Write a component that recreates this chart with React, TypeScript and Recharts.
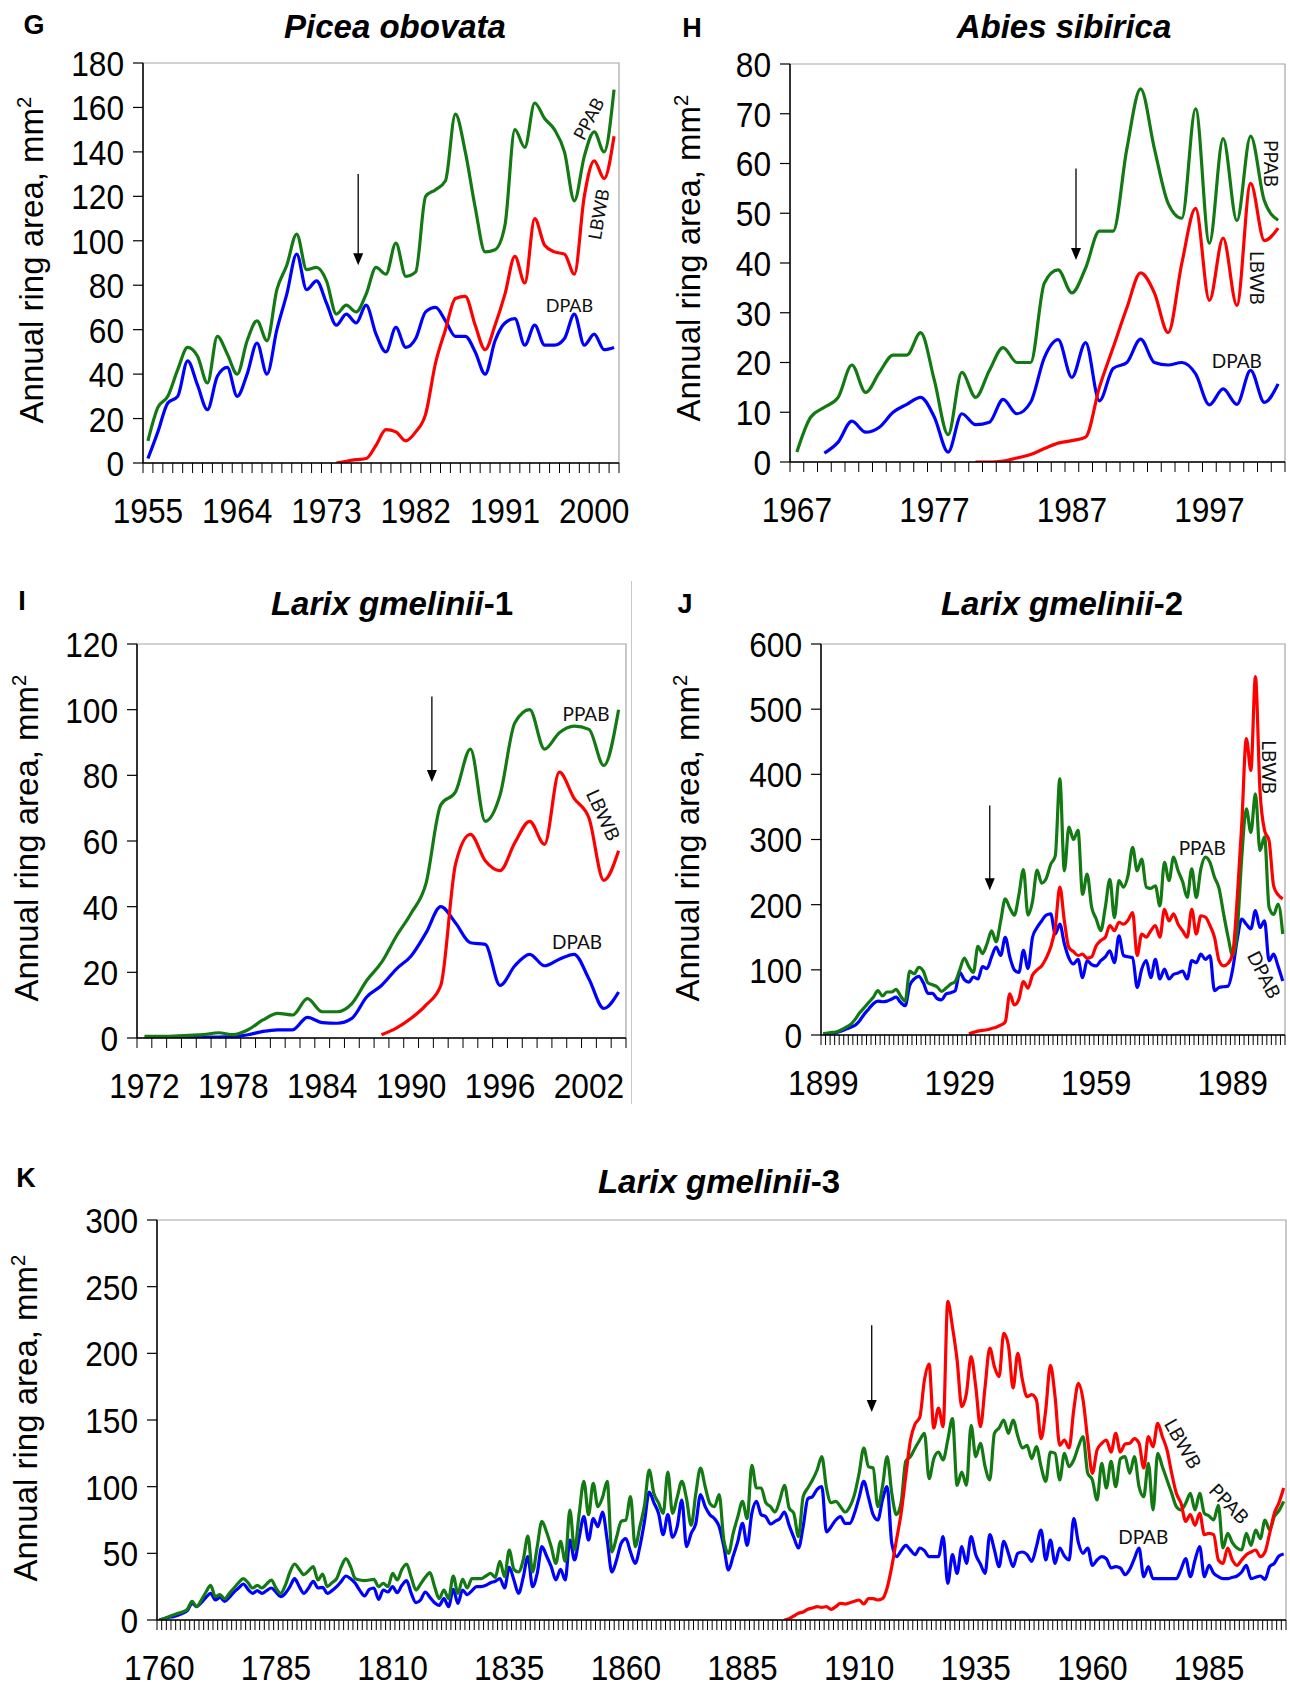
import React from 'react';
import {
  LineChart,
  Line,
  XAxis,
  YAxis,
  ReferenceLine,
  ReferenceDot,
  ReferenceArea,
} from 'recharts';

const GREEN = '#137a13';
const RED = '#ff0000';
const BLUE = '#0000ff';
const SANS = '"Liberation Sans", Arial, Helvetica, sans-serif';
const TAGFONT = 'Lato, "Open Sans", sans-serif';

// ---- G: Picea obovata (1955-2002)
const G_START = 1955;
const G_PPAB = [
  10, 25, 30, 42, 52, 48, 36, 57, 49, 40,
  55, 64, 55, 78, 89, 103, 87, 88, 82, 67,
  71, 68, 76, 88, 85, 99, 84, 86, 120, 123,
  127, 157, 140, 115, 95, 96, 107, 150, 142, 162,
  155, 150, 140, 118, 138, 149, 140, 168,
];
const G_DPAB_START = 1955;
const G_DPAB = [
  2, 14, 27, 30, 46, 35, 24, 39, 43, 30,
  40, 54, 40, 60, 76, 94, 78, 82, 72, 62,
  67, 63, 71, 58, 50, 61, 52, 56, 68, 70,
  64, 57, 57, 50, 40, 55, 63, 65, 53, 62,
  53, 53, 56, 67, 53, 58, 51, 52,
];
const G_LBWB_START = 1974;
const G_LBWB = [
  0, 0.8, 1.5, 2, 8, 15, 14, 10, 14, 22,
  45, 60, 74, 75, 62, 51, 62, 76, 93, 81,
  110, 98, 95, 94, 85, 120, 136, 128, 147,
];
const G_XLABELS = [1955, 1964, 1973, 1982, 1991, 2000];
const G_YTICKS = [0, 20, 40, 60, 80, 100, 120, 140, 160, 180];

// ---- H: Abies sibirica (1967-2002)
const H_START = 1967;
const H_PPAB = [
  2, 9, 11, 13, 19.5, 14, 18, 21.5, 21.5, 26,
  16.4, 5.5, 18, 13, 18.4, 23, 20, 20, 36, 38.6,
  34, 39, 46.4, 46.4, 63, 75, 63, 52, 49, 71,
  44, 65, 48.5, 65.5, 52.5, 48.6,
];
const H_DPAB_START = 1969;
const H_DPAB = [
  1.8, 4, 8.2, 6, 7, 10, 11.6, 13, 9, 2,
  9.7, 7.5, 8, 12.6, 9.7, 12, 21, 24.6, 17, 24,
  12.3, 18.8, 20, 24.7, 20, 19.5, 20, 17.7, 11.5, 14.7,
  11.6, 18.4, 12, 15.7,
];
const H_LBWB_START = 1980;
const H_LBWB = [
  0, 0, 0.2, 0.8, 1.5, 2.7, 3.8, 4.3, 5, 15,
  23, 31, 38, 34, 26, 40, 51, 32.5, 45, 31.5,
  56, 44.5, 47,
];
const H_XLABELS = [1967, 1977, 1987, 1997];
const H_YTICKS = [0, 10, 20, 30, 40, 50, 60, 70, 80];

// ---- I: Larix gmelinii-1 (1972-2004)
const I_START = 1972;
const I_PPAB = [
  0.5, 0.5, 0.6, 0.8, 1, 1.6, 1, 2.5, 5.5, 7.5,
  7, 12, 8, 8, 10.5, 17.5, 23, 31, 38, 47,
  71, 75, 88, 66, 74, 96, 100, 88, 93, 95,
  94, 83, 100,
];
const I_DPAB_START = 1973;
const I_DPAB = [
  0.2, 0.3, 0.3, 0.3, 0.3, 0.4, 1, 2, 2.5, 2.5,
  6.3, 4.7, 4.5, 6, 12.5, 16, 21, 25, 32, 40,
  35, 29, 28.5, 16, 22, 25.5, 22, 24, 25.5, 18,
  9, 14,
];
const I_LBWB_START = 1988;
const I_LBWB = [
  1, 3, 6, 10, 16, 53, 62, 54, 51, 59.5,
  66, 59, 81, 73, 67, 48, 57,
];
const I_XLABELS = [1972, 1978, 1984, 1990, 1996, 2002];
const I_YTICKS = [0, 20, 40, 60, 80, 100, 120];

// ---- J: Larix gmelinii-2 (1899-2000)
const J_START = 1899;
const J_PPAB = [
  2, 3, 4, 5, 8, 12, 16, 24, 34, 42,
  50, 58, 68, 60, 66, 66, 70, 60, 52, 98,
  94, 104, 98, 80, 77, 74, 67, 72, 78, 82,
  100, 118, 105, 96, 136, 125, 140, 160, 143, 175,
  209, 195, 184, 215, 254, 184, 205, 253, 233, 240,
  262, 275, 393, 252, 319, 300, 314, 216, 247, 196,
  178, 160, 196, 239, 180, 237, 227, 245, 288, 252,
  270, 227, 225, 229, 198, 265, 237, 273, 252, 235,
  211, 255, 211, 255, 273, 265, 242, 225, 186, 150,
  122, 160, 273, 347, 311, 370, 283, 304, 196, 185,
  201, 155,
];
const J_DPAB_START = 1899;
const J_DPAB = [
  1.5, 2, 3, 4, 6, 9, 12, 15, 22, 32,
  40, 48, 52, 51, 52, 55, 58, 50, 45, 76,
  86, 90, 80, 64, 64, 56, 54, 63, 65, 68,
  96, 85, 81, 89, 86, 105, 102, 120, 135, 122,
  150, 120, 100, 96, 130, 102, 150, 165, 175, 184,
  186, 155, 170, 140, 118, 109, 116, 88, 114, 108,
  106, 114, 120, 129, 111, 152, 122, 120, 119, 73,
  101, 114, 88, 116, 86, 101, 86, 93, 95, 98,
  86, 114, 111, 124, 116, 122, 68, 73, 74, 75,
  101, 147, 178, 170, 163, 191, 165, 175, 114, 124,
  105, 83,
];
const J_LBWB_START = 1931;
const J_LBWB = [
  2, 4, 6, 7, 8, 10, 12, 15, 20, 63,
  46, 55, 82, 72, 92, 100, 106, 118, 135, 165,
  227, 175, 134, 128, 122, 124, 118, 120, 137, 145,
  150, 168, 160, 173, 170, 176, 188, 122, 155, 150,
  160, 168, 150, 193, 175, 186, 170, 160, 150, 193,
  155, 183, 181, 168, 150, 114, 106, 110, 125, 210,
  324, 455, 406, 550, 375, 314, 298, 229, 215, 209,
];
const J_XLABELS = [1899, 1929, 1959, 1989];
const J_YTICKS = [0, 100, 200, 300, 400, 500, 600];

// ---- K: Larix gmelinii-3 (1760-2001)
const K_START = 1760;
const K_PPAB = [
  0, 1, 2.5, 3.75, 5, 6, 8, 14, 10, 15,
  21, 26, 17.5, 19, 16, 20, 24, 28, 31, 28,
  24, 26, 24, 27, 30, 24, 20, 26, 36, 42,
  38, 34, 37, 40, 30, 34.5, 25, 28, 31, 40,
  46, 40, 31, 30, 29.5, 30, 30.5, 25, 27.5, 25,
  35, 30, 38, 42, 32, 22.5, 27, 32, 35.5, 25,
  16, 22.5, 16, 33, 20, 30.5, 24, 31, 31, 31,
  33, 35, 32, 44, 32.5, 52.5, 38, 36, 45, 63,
  36, 55, 74, 66, 55, 42.5, 59, 44, 82.5, 52.5,
  80, 104, 79, 102.5, 85, 92, 104, 51, 62, 74,
  75, 92.5, 55, 70, 86, 112.5, 95, 88, 80, 111,
  80, 92, 104, 91, 71, 95, 114, 100, 87.5, 85,
  94, 60, 50, 65, 77.5, 89, 76, 116, 99, 99,
  88, 85, 81, 90, 101, 84, 80, 62.5, 92.5, 99,
  105, 112.5, 122.5, 99, 88, 89, 85, 81, 85, 94,
  110, 129, 115, 114, 85, 100, 122.5, 95, 79, 88,
  119, 122.5, 129, 135, 140, 106, 121, 126, 120, 135,
  151, 101, 111, 101, 146, 122.5, 132.5, 115, 105, 140,
  144, 150, 140, 150, 138, 129, 131, 121, 130, 115,
  104, 126, 125, 105, 125, 115, 120, 130, 137.5, 110,
  105, 90, 117.5, 99, 119, 100, 121, 122.5, 110, 122.5,
  100, 92.5, 117.5, 82.5, 125, 115, 105, 95, 85, 82.5,
  87.5, 95, 82.5, 95, 80, 78, 75, 86, 54, 65,
  58, 54, 52.5, 65, 56, 67.5, 61, 75, 67.5, 77.5,
  82, 89,
];
const K_DPAB_START = 1760;
const K_DPAB = [
  0, 1, 2, 2.5, 3.5, 5, 7, 12.5, 10, 13,
  17, 20, 15, 17, 14, 17, 21, 24, 27, 23,
  20, 22, 20, 22, 24, 21, 17.5, 20, 25, 31,
  25, 20, 24, 29, 24, 24.5, 20, 22, 25, 29,
  33, 31, 27.5, 22, 18, 23, 24, 15.5, 22.5, 21,
  25, 20.5, 26, 29.5, 20, 13, 15, 21, 17, 13,
  11, 16, 10, 23, 12.5, 22.5, 19, 22, 25, 25,
  26, 28, 29, 31, 24, 39.5, 30, 20, 32, 47.5,
  25, 35, 55, 48, 40, 30, 38, 30, 60, 45,
  62, 77.5, 60, 76, 70, 81, 60, 36, 45, 57.5,
  61, 51, 42.5, 55, 74, 96, 88, 80, 64, 79,
  62, 70, 90, 55, 65, 72.5, 94, 85, 79, 76,
  70, 55, 37.5, 48, 59, 72.5, 56, 80, 89, 79,
  77.5, 72, 74, 76, 81, 71, 62, 54, 70, 91,
  92.5, 98, 100, 66, 70, 75, 77.5, 72.5, 72.5, 80,
  92, 104, 92, 79, 75, 90, 100, 57.5, 47.5, 52,
  56, 52.5, 49, 54, 52, 47.5, 47.5, 47.5, 62.5, 27.5,
  49, 35, 55, 42.5, 62.5, 49, 42, 35, 64, 52.5,
  40, 59, 50, 40, 50, 51, 49, 44, 55, 67.5,
  45, 60, 42.5, 54, 48, 45, 76, 58, 50, 54,
  41, 45, 47.5, 46, 39, 40, 39, 34, 38, 46,
  54, 32.5, 40, 31, 31, 31, 31, 31, 31, 38,
  46, 32.5, 45, 55, 32.5, 41, 35, 32.5, 31, 31,
  32, 33, 36, 41, 31, 32, 33, 30.5, 40, 42.5,
  48, 49.5,
];
const K_LBWB_START = 1894;
const K_LBWB = [
  0, 1, 3, 5, 6, 8,
  9, 10, 9.5, 10, 8, 10, 12.5, 12, 13, 14,
  15, 12, 16, 16, 15, 16, 24, 40, 60, 80,
  108, 135, 147, 152, 180, 192, 144, 159, 145, 239,
  220, 195, 160, 170, 197.5, 175, 145, 175, 204, 190,
  182.5, 215, 206, 174, 200, 180, 167.5, 169, 165, 136,
  157.5, 191, 167.5, 131, 135, 129, 157.5, 177.5, 165, 135,
  110, 127.5, 132.5, 135, 126, 140, 126, 132, 132.5, 136,
  132.5, 114, 137.5, 130, 147.5, 137.5, 127.5, 110, 95, 87.5,
  74, 79, 71, 80, 64, 65, 64, 45, 42.5, 54,
  45, 41, 45, 49, 51, 52.5, 47.5, 51, 65, 80,
  88, 99,
];
const K_XLABELS = [1760, 1785, 1810, 1835, 1860, 1885, 1910, 1935, 1960, 1985];
const K_YTICKS = [0, 50, 100, 150, 200, 250, 300];

type Row = { year: number; ppab: number; dpab: number | null; lbwb: number | null };
type Tag = { text: string; year: number; value: number; angle: number };
type Arrow = { year: number; from: number; to: number };

function pick(arr: number[], start: number, year: number) {
  const k = year - start;
  return k >= 0 && k < arr.length ? arr[k] : null;
}

function buildRows(
  start: number,
  ppab: number[],
  dpabStart: number,
  dpab: number[],
  lbwbStart: number,
  lbwb: number[]
): Row[] {
  return ppab.map((v, i) => {
    const year = start + i;
    return { year, ppab: v, dpab: pick(dpab, dpabStart, year), lbwb: pick(lbwb, lbwbStart, year) };
  });
}

// narrow, tall digits like the original's axis font
const NUM_SIZE = 36;
const NUM_SX = 0.88;

const YTick = (p: any) => (
  <text
    transform={`translate(${p.x - 7},${p.y}) scale(${NUM_SX},1)`}
    dy="0.36em"
    textAnchor="end"
    fontSize={NUM_SIZE}
    fontFamily={SANS}
    fill="#000"
  >
    {p.payload.value}
  </text>
);

function makeXTick(labels: number[], step: number) {
  return (p: any) => {
    const yr = Math.round(p.payload.value + 0.5);
    if (!labels.includes(yr)) return <g />;
    return (
      <text
        transform={`translate(${p.x + step / 2},${p.y + 48}) scale(${NUM_SX},1)`}
        textAnchor="middle"
        fontSize={NUM_SIZE}
        fontFamily={SANS}
        fill="#000"
      >
        {yr}
      </text>
    );
  };
}

const ArrowShape = (p: any) => {
  const top = Math.min(p.y1, p.y2);
  const tip = Math.max(p.y1, p.y2);
  return (
    <g>
      <line x1={p.x1} y1={top} x2={p.x1} y2={tip - 10} stroke="#000" strokeWidth={1.3} />
      <polygon points={`${p.x1 - 5},${tip - 12} ${p.x1 + 5},${tip - 12} ${p.x1},${tip}`} fill="#000" />
    </g>
  );
};

function makeTag(t: Tag, size: number) {
  return (p: any) => (
    <text
      x={p.cx}
      y={p.cy}
      textAnchor="middle"
      dominantBaseline="central"
      transform={`rotate(${t.angle} ${p.cx} ${p.cy})`}
      fontSize={size}
      fontFamily={TAGFONT}
      fill="#111"
    >
      {t.text}
    </text>
  );
}

type PanelCfg = {
  letter: string;
  title: string;
  suffix?: string;
  letterPos: [number, number];
  titlePos: [number, number];
  yTitlePos: [number, number];
  plot: { x: number; y: number; w: number; h: number };
  rows: Row[];
  xLabels: number[];
  yTicks: number[];
  arrow: Arrow;
  tags: Tag[];
  tagSize: number;
};

const AXW = 100;
const TOP = 30;
const RIGHT = 30;
const XH = 85;

function Panel({ cfg }: { cfg: PanelCfg }) {
  const { plot, rows } = cfg;
  const n = rows.length;
  const step = plot.w / n;
  const lo = rows[0].year - 0.5;
  const hi = rows[n - 1].year + 0.5;
  const bounds = rows.map((r) => r.year - 0.5).concat([hi]);
  const yMax = cfg.yTicks[cfg.yTicks.length - 1];
  return (
    <>
      <div
        style={{
          position: 'absolute',
          left: cfg.letterPos[0],
          top: cfg.letterPos[1],
          transform: 'translate(-50%,-50%)',
          fontWeight: 700,
          fontSize: 27,
          fontFamily: SANS,
        }}
      >
        {cfg.letter}
      </div>
      <div
        style={{
          position: 'absolute',
          left: cfg.titlePos[0],
          top: cfg.titlePos[1],
          transform: 'translate(-50%,-50%)',
          fontWeight: 700,
          fontSize: 33,
          fontFamily: SANS,
          whiteSpace: 'nowrap',
        }}
      >
        <i>{cfg.title}</i>
        {cfg.suffix}
      </div>
      <div
        style={{
          position: 'absolute',
          left: cfg.yTitlePos[0],
          top: cfg.yTitlePos[1],
          transform: 'translate(-50%,-50%) rotate(-90deg)',
          fontSize: 33,
          fontFamily: SANS,
          whiteSpace: 'nowrap',
          lineHeight: 1,
        }}
      >
        Annual ring area, mm<sup style={{ fontSize: '0.62em', lineHeight: 0 }}>2</sup>
      </div>
      <div style={{ position: 'absolute', left: plot.x - AXW, top: plot.y - TOP }}>
        <LineChart
          width={AXW + plot.w + RIGHT}
          height={TOP + plot.h + XH}
          data={rows}
          margin={{ top: TOP, right: RIGHT, bottom: 0, left: 0 }}
        >
          <ReferenceArea
            x1={lo}
            x2={hi}
            y1={0}
            y2={yMax}
            fill="none"
            stroke="#a6a6a6"
            strokeWidth={1.2}
            ifOverflow="visible"
          />
          <XAxis
            dataKey="year"
            type="number"
            domain={[lo, hi]}
            ticks={bounds}
            interval={0}
            tickSize={10}
            height={XH}
            allowDataOverflow
            axisLine={{ stroke: '#000', strokeWidth: 1.5 }}
            tickLine={{ stroke: '#000', strokeWidth: 1 }}
            tick={makeXTick(cfg.xLabels, step)}
          />
          <YAxis
            type="number"
            domain={[0, yMax]}
            ticks={cfg.yTicks}
            interval={0}
            tickSize={10}
            width={AXW}
            allowDataOverflow
            axisLine={{ stroke: '#000', strokeWidth: 1.5 }}
            tickLine={{ stroke: '#000', strokeWidth: 1.2 }}
            tick={YTick}
          />
          <Line dataKey="dpab" type="monotone" stroke={BLUE} strokeWidth={3.2} dot={false} isAnimationActive={false} />
          <Line dataKey="ppab" type="monotone" stroke={GREEN} strokeWidth={3.2} dot={false} isAnimationActive={false} />
          <Line dataKey="lbwb" type="monotone" stroke={RED} strokeWidth={3.2} dot={false} isAnimationActive={false} />
          <ReferenceLine
            segment={[
              { x: cfg.arrow.year, y: cfg.arrow.from },
              { x: cfg.arrow.year, y: cfg.arrow.to },
            ]}
            stroke="#000"
            shape={ArrowShape}
            ifOverflow="visible"
          />
          {cfg.tags.map((t) => (
            <ReferenceDot
              key={t.text}
              x={t.year}
              y={t.value}
              r={0}
              ifOverflow="visible"
              shape={makeTag(t, cfg.tagSize)}
            />
          ))}
        </LineChart>
      </div>
    </>
  );
}

const PANELS: PanelCfg[] = [
  {
    letter: 'G',
    title: 'Picea obovata',
    letterPos: [34, 25],
    titlePos: [395, 27],
    yTitlePos: [31, 260],
    plot: { x: 143, y: 63, w: 476, h: 400 },
    rows: buildRows(G_START, G_PPAB, G_DPAB_START, G_DPAB, G_LBWB_START, G_LBWB),
    xLabels: G_XLABELS,
    yTicks: G_YTICKS,
    arrow: { year: 1976.2, from: 130, to: 89 },
    tags: [
      { text: 'PPAB', year: 1999.4, value: 155, angle: -62 },
      { text: 'LBWB', year: 2000.4, value: 112, angle: -80 },
      { text: 'DPAB', year: 1997.5, value: 71, angle: 0 },
    ],
    tagSize: 18,
  },
  {
    letter: 'H',
    title: 'Abies sibirica',
    letterPos: [692, 28],
    titlePos: [1064, 27],
    yTitlePos: [688, 258],
    plot: { x: 790, y: 64, w: 495, h: 398 },
    rows: buildRows(H_START, H_PPAB, H_DPAB_START, H_DPAB, H_LBWB_START, H_LBWB),
    xLabels: H_XLABELS,
    yTicks: H_YTICKS,
    arrow: { year: 1987.3, from: 59, to: 40.6 },
    tags: [
      { text: 'PPAB', year: 2001.5, value: 60, angle: 90 },
      { text: 'LBWB', year: 2000.5, value: 37, angle: 90 },
      { text: 'DPAB', year: 1999, value: 20.5, angle: 0 },
    ],
    tagSize: 19,
  },
  {
    letter: 'I',
    title: 'Larix gmelinii',
    suffix: '-1',
    letterPos: [22, 601],
    titlePos: [392, 604],
    yTitlePos: [26, 838],
    plot: { x: 137, y: 644, w: 489, h: 394 },
    rows: buildRows(I_START, I_PPAB, I_DPAB_START, I_DPAB, I_LBWB_START, I_LBWB),
    xLabels: I_XLABELS,
    yTicks: I_YTICKS,
    arrow: { year: 1991.4, from: 104, to: 78 },
    tags: [
      { text: 'PPAB', year: 2001.8, value: 98.7, angle: 0 },
      { text: 'LBWB', year: 2003, value: 68, angle: 65 },
      { text: 'DPAB', year: 2001.2, value: 29.3, angle: 0 },
    ],
    tagSize: 19,
  },
  {
    letter: 'J',
    title: 'Larix gmelinii',
    suffix: '-2',
    letterPos: [685, 604],
    titlePos: [1062, 604],
    yTitlePos: [687, 838],
    plot: { x: 821, y: 644, w: 464, h: 391 },
    rows: buildRows(J_START, J_PPAB, J_DPAB_START, J_DPAB, J_LBWB_START, J_LBWB),
    xLabels: J_XLABELS,
    yTicks: J_YTICKS,
    arrow: { year: 1935.6, from: 352, to: 222 },
    tags: [
      { text: 'LBWB', year: 1997, value: 411, angle: 90 },
      { text: 'PPAB', year: 1982.3, value: 288, angle: 0 },
      { text: 'DPAB', year: 1996, value: 93, angle: 63 },
    ],
    tagSize: 19,
  },
  {
    letter: 'K',
    title: 'Larix gmelinii',
    suffix: '-3',
    letterPos: [26, 1178],
    titlePos: [719, 1182],
    yTitlePos: [25, 1418],
    plot: { x: 157, y: 1220, w: 1129, h: 400 },
    rows: buildRows(K_START, K_PPAB, K_DPAB_START, K_DPAB, K_LBWB_START, K_LBWB),
    xLabels: K_XLABELS,
    yTicks: K_YTICKS,
    arrow: { year: 1912.7, from: 221, to: 156 },
    tags: [
      { text: 'LBWB', year: 1979.5, value: 132.5, angle: 60 },
      { text: 'PPAB', year: 1989.4, value: 87.5, angle: 46 },
      { text: 'DPAB', year: 1970.9, value: 62.5, angle: 0 },
    ],
    tagSize: 19,
  },
];

export default function App() {
  return (
    <div
      style={{
        position: 'relative',
        width: 1290,
        height: 1689,
        background: '#fff',
        overflow: 'hidden',
        fontFamily: SANS,
      }}
    >
      <style>{'body{margin:0}'}</style>
      {PANELS.map((p) => (
        <Panel key={p.letter} cfg={p} />
      ))}
      {/* chart-area edge to the right of panel I */}
      <div style={{ position: 'absolute', left: 631, top: 581, width: 0, height: 523, borderLeft: '1px solid #c8c8c8' }} />
    </div>
  );
}
